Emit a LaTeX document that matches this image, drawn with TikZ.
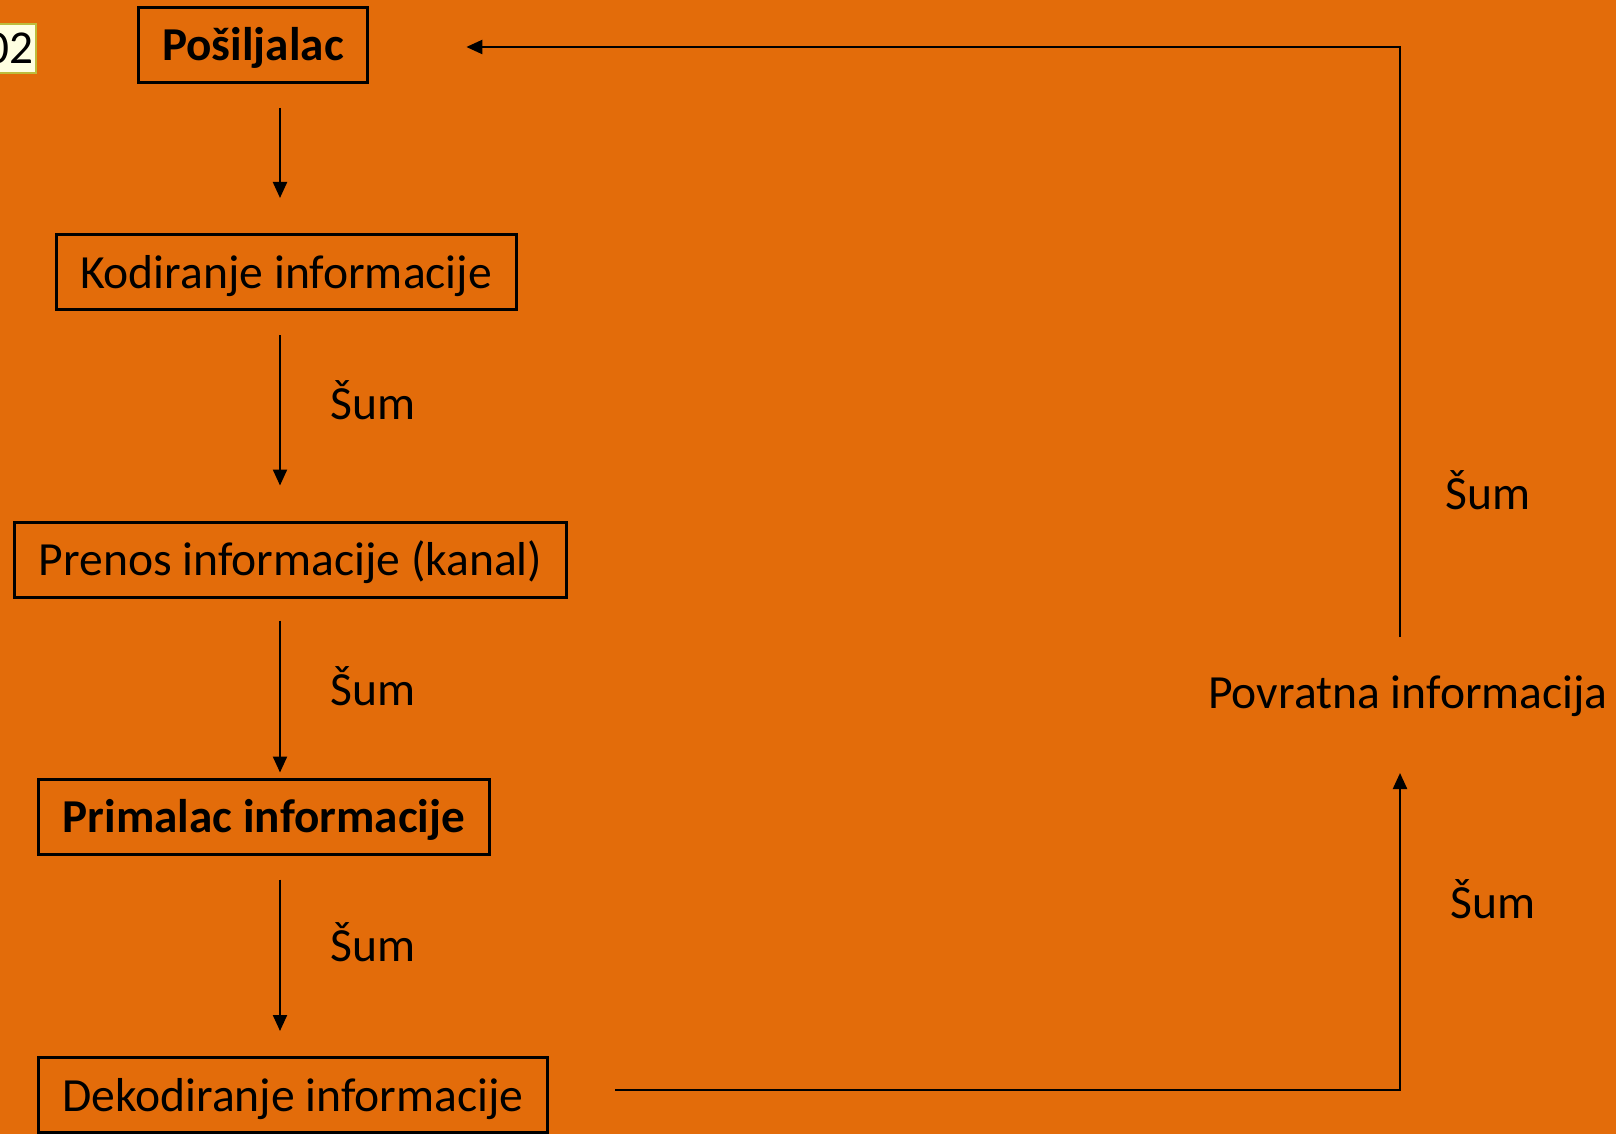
\documentclass[tikz,border=0pt]{standalone}
\usepackage{fontspec}
\setmainfont{Carlito}
\usetikzlibrary{arrows.meta}
\definecolor{slideorange}{HTML}{E36C0A}
\definecolor{tagfill}{HTML}{FFFFE1}
\definecolor{tagline}{HTML}{BDBD3C}
\tikzset{
  stage/.style={draw=black, line width=1.5pt, inner xsep=12pt, minimum height=37.5pt,
    text height=20pt, text depth=4pt, font=\fontsize{23.8}{28}\selectfont},
  lbl/.style={inner sep=0pt, font=\fontsize{23.8}{28}\selectfont},
  flow/.style={-{Triangle[length=8pt,width=7pt]}, line width=1.1pt},
}
\begin{document}
\begin{tikzpicture}[x=0.5pt,y=-0.5pt]
    % Slide background
    \fill[slideorange] (0,0) rectangle (1616,1134);
    \useasboundingbox (0,0) rectangle (1616,1134);
    \node[draw=tagline, fill=tagfill, line width=0.8pt, inner xsep=1.5pt, inner ysep=0pt,
      minimum height=24.5pt, text height=16pt, text depth=1.2pt,
      font=\fontsize{23.6}{28}\selectfont, anchor=east] (tag) at (37,48.5) {02};

    % Chain of stages
    \node[stage, font=\fontsize{23.6}{28}\selectfont\bfseries] (posiljalac) at (253,45) {Pošiljalac};
    \node[stage] (kodiranje) at (286,272) {Kodiranje informacije};
    \node[stage] (prenos) at (290.5,559.5) {Prenos informacije (kanal)};
    \node[stage, font=\fontsize{23.6}{28}\selectfont\bfseries] (primalac) at (264,816.5) {Primalac informacije};
    \node[stage] (dekodiranje) at (293,1095) {Dekodiranje informacije};
    \node[lbl] (povratna) at (1408,696) {Povratna informacija};

    % Noise labels
    \node[lbl, anchor=west] (sum1) at (330,400) {Šum};
    \node[lbl, anchor=west] (sum2) at (330,686) {Šum};
    \node[lbl, anchor=west] (sum3) at (330,942) {Šum};
    \node[lbl, anchor=west] (sum4) at (1445,490) {Šum};
    \node[lbl, anchor=west] (sum5) at (1450,899) {Šum};

    % Arrows
    \coordinate (axis) at (280,0);
    \coordinate (fbx) at (1400,0);
    \draw[flow, shorten <=12pt, shorten >=17.5pt] (posiljalac.south -| axis) -- (kodiranje.north -| axis);
    \draw[flow, shorten <=12pt, shorten >=17.5pt] (kodiranje.south -| axis) -- (prenos.north -| axis);
    \draw[flow, shorten <=11pt, shorten >=2.5pt] (prenos.south -| axis) -- (primalac.north -| axis);
    \draw[flow, shorten <=12pt, shorten >=12.5pt] (primalac.south -| axis) -- (dekodiranje.north -| axis);

    % Feedback loop
    \draw[flow, shorten <=33pt, shorten >=38.5pt] ([yshift=2.5pt]dekodiranje.east) -| (fbx |- povratna.center);
    \draw[flow, shorten <=29.5pt, shorten >=48.5pt] (fbx |- povratna.center) |- ([yshift=-1pt]posiljalac.east);
\end{tikzpicture}
\end{document}
